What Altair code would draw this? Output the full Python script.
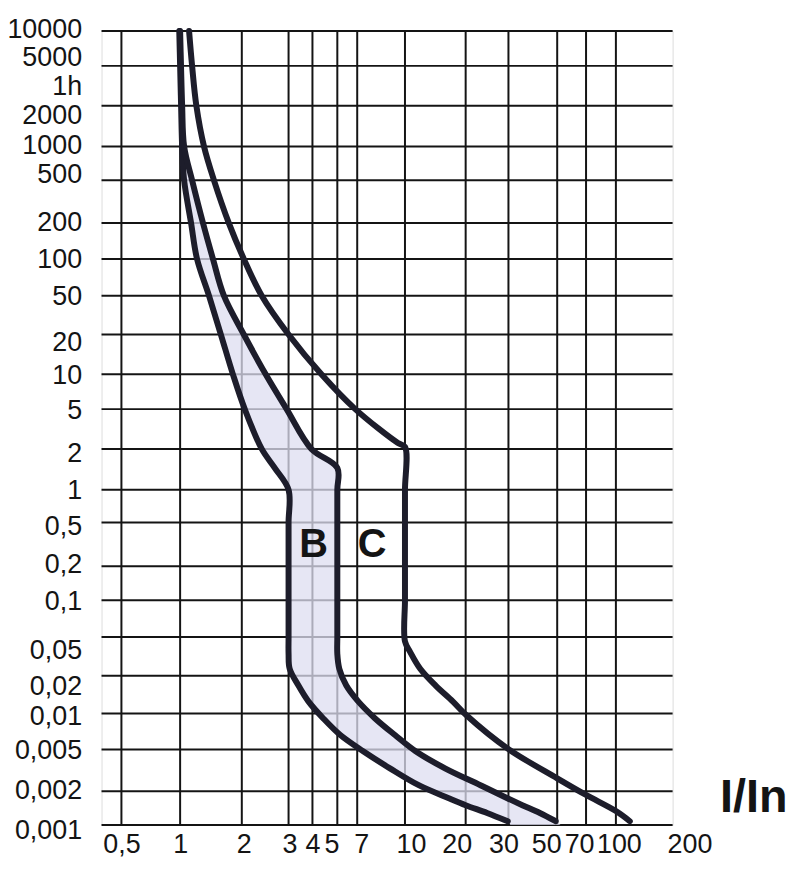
import altair as alt
import pandas as pd

# ---------------- axis / grid values ----------------
x_ticks = [0.5, 1, 2, 3, 4, 5, 7, 10, 20, 30, 50, 70, 100, 200]
x_grid = [0.5, 1, 2, 3, 4, 5, 7, 10, 20, 30, 50, 70, 100]
y_grid = [0.001, 0.002, 0.005, 0.01, 0.02, 0.05, 0.1, 0.2, 0.5, 1, 2, 5,
          10, 20, 50, 100, 200, 500, 1000, 2000, 5000, 10000]
y_ticks = y_grid + [3600]  # "1h"

# piecewise (irregular) printed scale of the original chart sheet
x_dom = [0.4] + x_ticks
x_rng = [0, 20, 79, 141, 188, 212, 237, 257, 305, 366, 409, 458, 487, 517, 591]
y_dom = y_grid
y_rng = [798, 764, 722, 686, 648, 609, 572, 538, 494, 461, 420, 380, 345,
         305, 266, 229, 193, 150, 116, 75, 35, 0]

# ---------------- curves ----------------
# B band: left (min) and right (max, = C min) boundary at the same times
t_b = [10000, 5000, 2000, 1000, 500, 200, 100, 50, 20, 10, 5, 2, 1.45, 1,
       0.5, 0.2, 0.1, 0.05, 0.0335, 0.0236, 0.0167, 0.0125, 0.0091, 0.0066,
       0.0048, 0.0033, 0.00228, 0.00173, 0.0015, 0.00128, 0.00108]
x_b_min = [0.99, 1.0, 1.011, 1.023, 1.046, 1.131, 1.209, 1.383, 1.581, 1.81,
           2.052, 2.377, 2.66, 3.0, 3.0, 3.0, 3.0, 3.0, 3.0, 3.04, 3.38, 3.81,
           4.41, 5.26, 7.32, 8.94, 11.7, 16.5, 20, 24.5, 29.8]
x_b_max = [1.0, 1.01, 1.023, 1.046, 1.144, 1.293, 1.446, 1.635, 2.035, 2.46,
           2.95, 3.95, 5.0, 5.0, 5.0, 5.0, 5.0, 5.0, 5.0, 5.17, 5.82, 7.05,
           8.0, 9.28, 11.3, 15.8, 23.0, 29.7, 34.7, 41.7, 49.2]
# where the band meets the bottom border (t = 0.001)
band_end = {"t": 0.001, "xmin": 30.6, "xmax": 52}

# C max curve
t_c = [10000, 5000, 2000, 1000, 500, 200, 100, 50, 20, 10, 5, 2.29, 2.1, 1,
       0.5, 0.2, 0.1, 0.045, 0.0352, 0.0236, 0.0167, 0.01245, 0.00962,
       0.0051, 0.00265, 0.00185, 0.00133, 0.00108]
x_c_max = [1.106, 1.144, 1.2, 1.308, 1.463, 1.729, 2.035, 2.377, 3.0, 4.335,
           6.77, 9.49, 10, 10, 10, 10, 10, 10, 10.6, 11.9, 14.2, 17.3, 20.2,
           29.7, 50, 70, 100, 114]

# labels inside the plot
lab_text = ["B", "C"]
lab_x = [4.04, 7.83]
lab_t = [0.31, 0.31]

# ---------------- data frames ----------------
band_df = pd.DataFrame({"t": t_b + [band_end["t"]],
                        "xmin": x_b_min + [band_end["xmin"]],
                        "xmax": x_b_max + [band_end["xmax"]]})
rows = []
for name, ts, xs in [("Bmin", t_b, x_b_min), ("Bmax", t_b, x_b_max),
                     ("Cmax", t_c, x_c_max)]:
    for i, (t, x) in enumerate(zip(ts, xs)):
        rows.append({"curve": name, "t": t, "x": x, "i": i})
curve_df = pd.DataFrame(rows)
vgrid_df = pd.DataFrame({"gx": x_grid})
hgrid_df = pd.DataFrame({"gy": y_grid})
lab_df = pd.DataFrame({"txt": lab_text, "x": lab_x, "t": lab_t})

FONT = "Liberation Sans"
INK = "#141414"
CURVE = "#1d1d2b"

x_scale = alt.Scale(type="log", domain=x_dom, range=x_rng, nice=False)
y_scale = alt.Scale(type="log", domain=y_dom, range=y_rng, nice=False)


def cond(pairs, default=0):
    return {"condition": [{"test": f"datum.value == {v}", "value": o}
                          for v, o in pairs], "value": default}


x_axis = alt.Axis(
    values=x_ticks, grid=False, domain=False, ticks=False, tickSize=0,
    labelExpr="replace(toString(datum.value), '.', ',')",
    labelFont=FONT, labelFontSize=27, labelColor=INK, labelPadding=7,
    labelFlush=False, labelOverlap=False, labelBound=False,
    labelOffset=cond([(2, 2), (3, 1), (5, -6), (7, 4), (10, 6), (20, -9),
                      (30, -5), (50, -11), (70, -7), (100, 3)]),
    title="I/In", titleFont=FONT, titleFontSize=47, titleFontWeight="bold",
    titleColor=INK, titleX=655, titleY=-14, titleAlign="center",
    titleBaseline="alphabetic", titleAngle=0,
)
y_axis = alt.Axis(
    values=y_ticks, grid=False, domain=False, ticks=False, tickSize=0,
    labelExpr="datum.value == 3600 ? '1h' : replace(toString(datum.value), '.', ',')",
    labelFont=FONT, labelFontSize=27, labelColor=INK, labelPadding=20,
    labelFlush=False, labelOverlap=False, labelBound=False,
    labelBaseline="middle",
    labelOffset=cond([(10000, -2), (5000, -8), (3600, 6), (2000, 10),
                      (1000, -1), (500, -6), (200, -1), (20, 8), (2, 5),
                      (0.5, 4), (0.2, -2), (0.05, 14), (0.02, 11),
                      (0.01, 3), (0.002, -1), (0.001, 6)], default=1),
    title=None,
)

vgrid = alt.Chart(vgrid_df).mark_rule(color=INK, strokeWidth=2).encode(
    x=alt.X("gx:Q", scale=x_scale, axis=x_axis))
hgrid = alt.Chart(hgrid_df).mark_rule(color=INK, strokeWidth=2).encode(
    y=alt.Y("gy:Q", scale=y_scale, axis=y_axis))

band = alt.Chart(band_df).mark_area(
    orient="horizontal", interpolate="monotone", color="#dedef0",
    fillOpacity=0.75).encode(
    y=alt.Y("t:Q", scale=y_scale, axis=y_axis),
    x=alt.X("xmin:Q", scale=x_scale, axis=x_axis),
    x2=alt.X2("xmax:Q"),
)

curves = alt.Chart(curve_df).mark_line(
    interpolate="catmull-rom", color=CURVE, strokeWidth=6,
    strokeCap="round", strokeJoin="round").encode(
    x=alt.X("x:Q", scale=x_scale, axis=x_axis),
    y=alt.Y("t:Q", scale=y_scale, axis=y_axis),
    detail="curve:N",
    order="i:Q",
)

labels = alt.Chart(lab_df).mark_text(
    font=FONT, fontSize=40, fontWeight="bold", color=INK,
    align="center", baseline="middle").encode(
    x=alt.X("x:Q", scale=x_scale, axis=x_axis),
    y=alt.Y("t:Q", scale=y_scale, axis=y_axis),
    text="txt:N",
)

chart = alt.layer(vgrid, hgrid, band, curves, labels).properties(
    width=574, height=798,
    autosize=alt.AutoSizeParams(type="none"),
    padding={"left": 94, "top": 21, "right": 119, "bottom": 31},
).configure_view(stroke=INK, strokeWidth=2.5).configure(background="white")

chart.save("out.html", embed_options={"renderer": "svg", "actions": False})
